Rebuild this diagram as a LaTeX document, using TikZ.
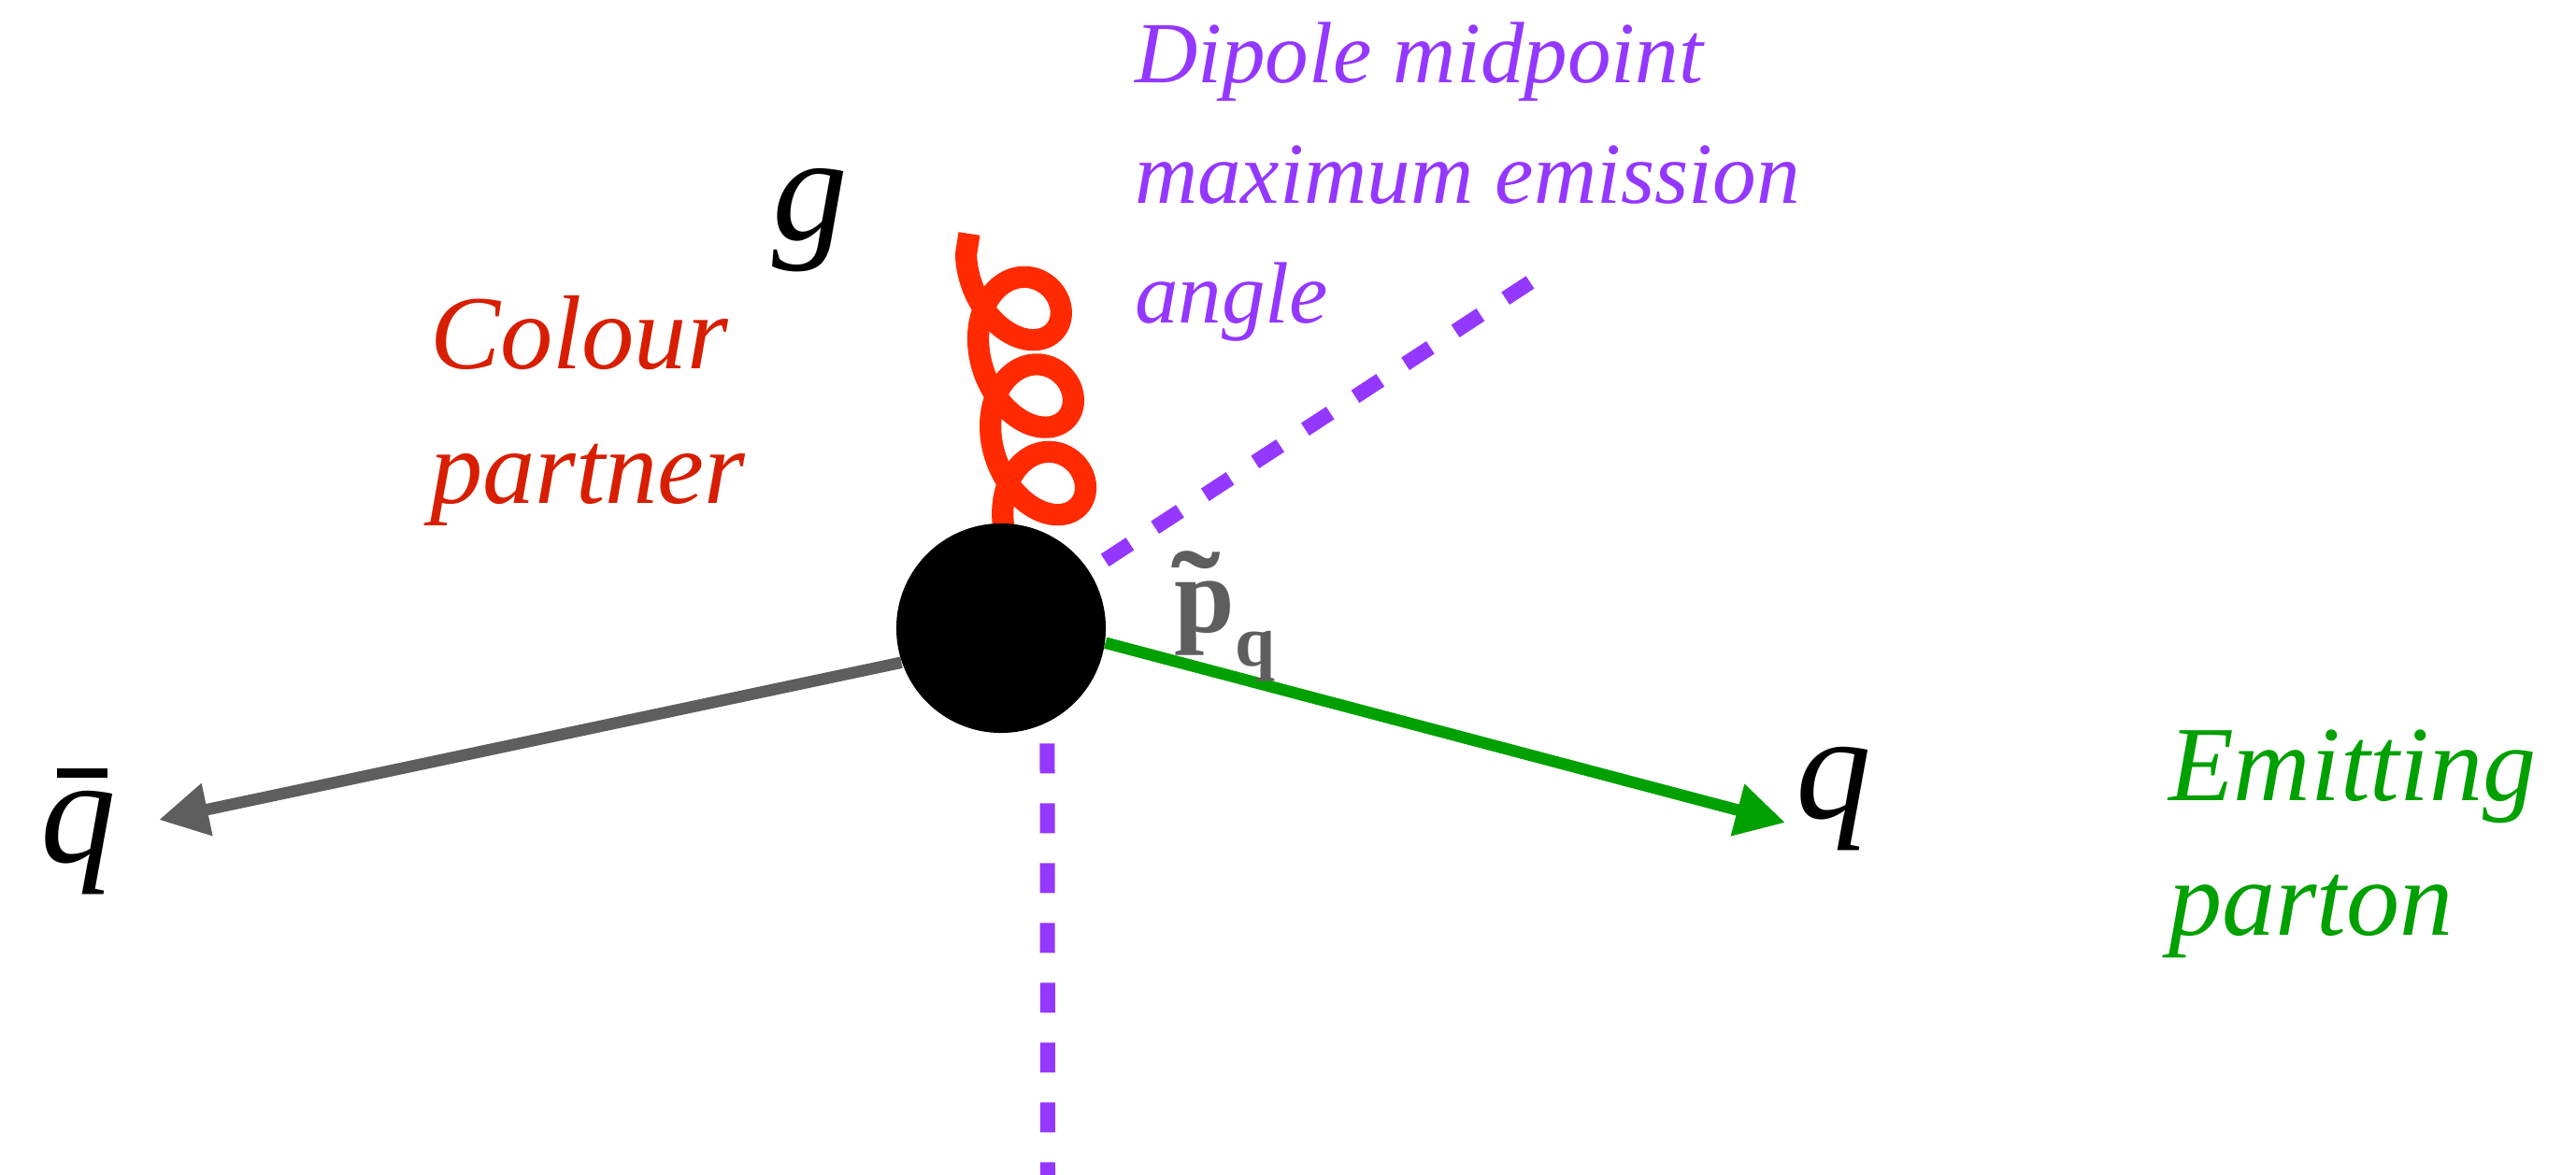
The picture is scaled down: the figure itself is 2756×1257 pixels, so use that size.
\documentclass[tikz,border=0pt]{standalone}
\usepackage{fontspec}
\setmainfont{Liberation Serif}
\usetikzlibrary{arrows.meta,backgrounds}

\definecolor{gluonred}{HTML}{FF2A00}
\definecolor{textred}{HTML}{D81E00}
\definecolor{dipurple}{HTML}{9437FF}
\definecolor{emgreen}{HTML}{00A000}
\definecolor{qgray}{HTML}{5E5E5E}

\newcommand{\barq}{\rlap{\kern0.11em\rule[0.557em]{0.335em}{0.062em}}q}
\newcommand{\tildep}{\rlap{\kern-0.02em\raisebox{-0.02em}{\scalebox{1.35}[1.1]{˜}}}p}

\tikzset{
  blobnode/.style={circle, fill=black, inner sep=0pt, minimum size=2.24cm},
  lbl/.style={inner sep=0pt, outer sep=0pt, anchor=base west, align=left},
  redlbl/.style={lbl, text=textred, font=\fontsize{32}{40.7}\selectfont\itshape},
  greenlbl/.style={lbl, text=emgreen, font=\fontsize{32.5}{40.7}\selectfont\itshape},
  purplelbl/.style={lbl, text=dipurple, font=\fontsize{26.5}{36.4}\selectfont\itshape},
  glyphlbl/.style={lbl, text=black, font=\fontsize{46}{50}\selectfont\itshape},
  momlbl/.style={lbl, text=qgray, font=\fontsize{33}{40}\selectfont\bfseries},
  fermionline/.style={line width=3.55pt, -{Triangle[length=15pt,width=15.4pt]}},
  dipline/.style={draw=dipurple, line width=4.55pt, dash pattern=on 9.1pt off 9.1pt},
  gluonline/.style={draw=gluonred, line width=6.6pt, line join=round},
}

\begin{document}
\begin{tikzpicture}[x=0.01cm, y=-0.01cm]
  \useasboundingbox (0,0) rectangle (2756,1257);

  % vertex
  \node[blobnode] (blob) at (1071,672) {};

  % free ends
  \coordinate (gtop)   at (1037,250);
  \coordinate (qbtip)  at (170,877);
  \coordinate (qtip)   at (1910,880);
  \coordinate (dipend) at (1637,302);
  \coordinate (vend)   at (1121,1257);

  % labels (multi-line labels are anchored at the baseline of their last line)
  \node[glyphlbl] (glbl)    at (826,256)  {g};
  \node[glyphlbl] (qbarlbl) at (43,922)   {\barq};
  \node[glyphlbl] (qlbl)    at (1921,875) {q};
  \node[momlbl]   (plbl)    at (1256,676) {\tildep\kern0.01em\raisebox{-10.5pt}{\fontsize{22}{24}\selectfont q}};
  \node[redlbl]    (colourlbl) at (460,538)  {Colour\\partner};
  \node[purplelbl] (dipolelbl) at (1214,345) {Dipole midpoint\\maximum emission\\angle};
  \node[greenlbl]  (emitlbl)   at (2320,1000) {Emitting\\parton};

  \begin{scope}[on background layer]
    % gluon
    \draw[gluonline] (gtop) -- plot[domain=-3.3:15.708, samples=320, variable=\t]
      ({1088 + 0.14*(14.88*\t - 55*sin(\t r)) + 47*cos(\t r)}, {330 + 14.88*\t - 55*sin(\t r)})
      -- (blob.north);
    % antiquark and quark
    \draw[fermionline, qgray]   (blob.199) -- (qbtip);
    \draw[fermionline, emgreen] (blob.352) -- (qtip);
    % dipole lines
    \draw[dipline, dash phase=12.52pt] (blob) -- (dipend);
    \draw[dipline, dash phase=11.95pt] (blob.296.5) -- (vend);
  \end{scope}
\end{tikzpicture}
\end{document}
